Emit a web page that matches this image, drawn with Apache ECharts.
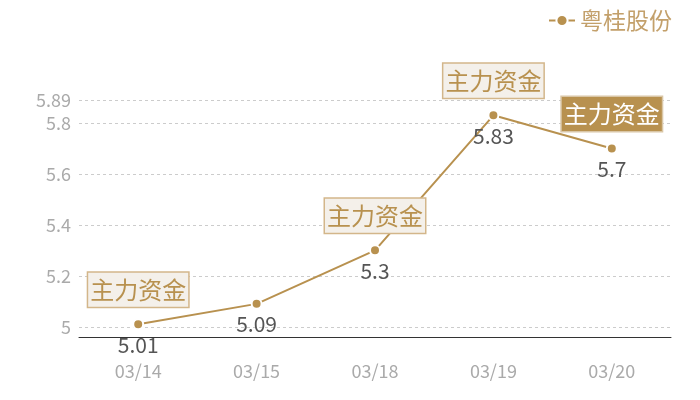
<!DOCTYPE html>
<html><head><meta charset="utf-8">
<script src="https://cdn.jsdelivr.net/npm/echarts@6/dist/echarts.min.js"></script>
<style>html,body{margin:0;padding:0;background:#fff}#c{width:700px;height:400px}</style>
</head><body><div id="c"></div>
<script>
var categories = ['03/14', '03/15', '03/18', '03/19', '03/20'];
var seriesName = '粤桂股份';
var prices = [5.01, 5.09, 5.3, 5.83, 5.7];
var markText = '主力资金';
var markIdx = [0, 2, 3, 4];
var highlightIdx = 4;
var yMin = 4.96, yMax = 5.89;

var gold = '#b8914f';
var font = '"Noto Sans CJK SC", "Noto Sans", sans-serif';

var marks = markIdx.map(function (i) {
  var hl = i === highlightIdx;
  return {
    coord: [categories[i], prices[i]],
    value: markText,
    label: hl ? { color: '#fff', backgroundColor: gold, borderColor: '#d9c6a6' } : {}
  };
});

var chart = echarts.init(document.getElementById('c'));
chart.setOption({
  animation: false,
  textStyle: { fontFamily: font },
  legend: {
    right: 23, top: 4,
    itemWidth: 26, itemHeight: 14, itemGap: 7,
    textStyle: { color: '#c3a06b', fontSize: 23, fontFamily: font },
    data: [seriesName]
  },
  grid: { left: 79, right: 29, top: 100, bottom: 63 },
  xAxis: {
    type: 'category',
    data: categories,
    axisLine: { lineStyle: { color: '#333', width: 1 } },
    axisTick: { show: false },
    axisLabel: { color: '#aaa', fontSize: 18, margin: 25, fontFamily: font }
  },
  yAxis: {
    type: 'value',
    min: yMin, max: yMax,
    axisLine: { show: false },
    axisTick: { show: false },
    axisLabel: { color: '#aaa', fontSize: 18, margin: 8, fontFamily: font },
    splitLine: { lineStyle: { color: '#ccc', type: [3, 3] } }
  },
  series: [{
    name: seriesName,
    type: 'line',
    data: prices,
    symbol: 'circle',
    symbolSize: 10,
    lineStyle: { color: gold, width: 2 },
    itemStyle: { color: gold, borderColor: '#fff', borderWidth: 2 },
    label: { show: true, position: 'bottom', distance: 4, color: '#555', fontSize: 21, fontFamily: font },
    markPoint: {
      symbol: 'circle', symbolSize: 1,
      itemStyle: { color: 'rgba(0,0,0,0)' },
      label: {
        show: true, position: 'top', distance: 17,
        formatter: function (p) { return p.value; },
        color: gold, fontSize: 24, lineHeight: 26, fontFamily: font,
        backgroundColor: '#f4f0ea',
        borderColor: '#d3b68a', borderWidth: 1.5,
        padding: [4, 2, 4, 2]
      },
      data: marks
    }
  }]
});
</script></body></html>
